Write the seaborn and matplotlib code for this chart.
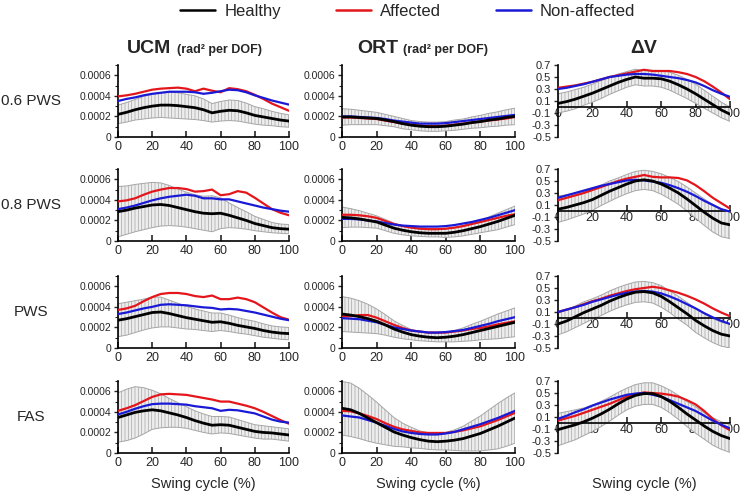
import matplotlib
matplotlib.use("Agg")
import numpy as np
import matplotlib.pyplot as plt
import seaborn as sns
from matplotlib.lines import Line2D
from matplotlib.ticker import MultipleLocator

sns.set_style("ticks")
plt.rcParams['font.family'] = ['Liberation Sans', 'DejaVu Sans']
plt.rcParams['hatch.linewidth'] = 0.5
plt.rcParams['hatch.color'] = '#a6a6a6'

# swing cycle (%) sampled every 5 %
swing = list(range(0, 101, 5))

# UCM / ORT values are in units of 1e-4 rad^2 per DOF
VAR_UNIT = 1e-4

# ---------------- UCM ----------------
ucm_06_healthy = [2.2, 2.4, 2.65, 2.85, 3.0, 3.1, 3.1, 3.05, 2.95, 2.85, 2.65, 2.35, 2.5, 2.6, 2.55, 2.35, 2.1, 1.95, 1.8, 1.65, 1.55]
ucm_06_sd = [0.9, 0.95, 1.0, 1.1, 1.15, 1.2, 1.25, 1.25, 1.2, 1.15, 1.05, 0.9, 0.95, 1.0, 1.0, 0.95, 0.85, 0.8, 0.7, 0.65, 0.6]
ucm_06_affected = [3.95, 4.05, 4.2, 4.4, 4.6, 4.7, 4.75, 4.8, 4.7, 4.45, 4.7, 4.5, 4.35, 4.75, 4.65, 4.45, 4.1, 3.7, 3.25, 2.9, 2.55]
ucm_06_nonaff = [3.5, 3.7, 3.85, 4.05, 4.2, 4.3, 4.4, 4.4, 4.4, 4.35, 4.2, 4.3, 4.45, 4.6, 4.55, 4.35, 4.05, 3.8, 3.55, 3.35, 3.15]

ucm_08_healthy = [2.85, 3.0, 3.2, 3.35, 3.5, 3.55, 3.45, 3.25, 3.05, 2.85, 2.7, 2.65, 2.7, 2.5, 2.25, 2.0, 1.7, 1.5, 1.3, 1.2, 1.15]
ucm_08_sd = [2.45, 2.35, 2.3, 2.25, 2.2, 2.1, 1.95, 1.8, 1.7, 1.65, 1.65, 1.75, 1.5, 1.2, 1.0, 0.85, 0.7, 0.6, 0.5, 0.45, 0.45]
ucm_08_affected = [3.85, 3.95, 4.15, 4.5, 4.8, 5.0, 5.15, 5.15, 5.05, 4.8, 4.85, 5.0, 4.45, 4.55, 4.85, 4.7, 4.2, 3.65, 3.1, 2.75, 2.5]
ucm_08_nonaff = [3.1, 3.25, 3.45, 3.7, 3.95, 4.15, 4.3, 4.4, 4.5, 4.4, 4.15, 4.15, 4.05, 4.05, 3.85, 3.65, 3.45, 3.25, 3.1, 2.95, 2.85]

ucm_pws_healthy = [2.7, 2.85, 3.05, 3.25, 3.45, 3.5, 3.35, 3.15, 2.95, 2.8, 2.65, 2.5, 2.55, 2.4, 2.2, 2.05, 1.9, 1.7, 1.55, 1.45, 1.4]
ucm_pws_sd = [1.6, 1.6, 1.55, 1.5, 1.5, 1.45, 1.3, 1.2, 1.1, 1.0, 0.95, 0.9, 0.85, 0.8, 0.75, 0.7, 0.7, 0.65, 0.6, 0.6, 0.6]
ucm_pws_affected = [3.7, 3.85, 4.1, 4.55, 4.95, 5.25, 5.35, 5.35, 5.25, 5.05, 4.95, 5.1, 4.75, 4.75, 4.9, 4.75, 4.45, 3.95, 3.45, 3.0, 2.75]
ucm_pws_nonaff = [3.3, 3.45, 3.65, 3.85, 4.0, 4.2, 4.25, 4.2, 4.15, 4.05, 3.95, 3.9, 3.75, 3.8, 3.75, 3.6, 3.45, 3.25, 3.05, 2.85, 2.7]

ucm_fas_healthy = [3.45, 3.7, 3.95, 4.1, 4.2, 4.1, 3.9, 3.7, 3.45, 3.15, 2.9, 2.7, 2.75, 2.7, 2.5, 2.3, 2.1, 2.0, 1.95, 1.85, 1.75]
ucm_fas_sd = [2.4, 2.5, 2.5, 2.25, 1.9, 1.65, 1.4, 1.2, 1.05, 0.95, 0.9, 0.85, 0.8, 0.8, 0.75, 0.7, 0.65, 0.65, 0.6, 0.6, 0.6]
ucm_fas_affected = [4.1, 4.35, 4.65, 5.05, 5.45, 5.7, 5.75, 5.7, 5.65, 5.5, 5.35, 5.2, 5.0, 5.0, 4.8, 4.6, 4.35, 4.0, 3.6, 3.2, 2.85]
ucm_fas_nonaff = [3.75, 4.0, 4.3, 4.55, 4.75, 4.8, 4.8, 4.75, 4.7, 4.55, 4.45, 4.35, 4.1, 4.2, 4.15, 4.0, 3.85, 3.55, 3.25, 3.05, 2.95]

# ---------------- ORT ----------------
ort_06_healthy = [1.95, 1.95, 1.9, 1.85, 1.8, 1.65, 1.5, 1.3, 1.15, 1.05, 1.0, 1.0, 1.05, 1.15, 1.25, 1.4, 1.5, 1.65, 1.75, 1.9, 2.0]
ort_06_sd = [0.8, 0.75, 0.7, 0.65, 0.6, 0.55, 0.5, 0.5, 0.45, 0.45, 0.45, 0.45, 0.45, 0.5, 0.5, 0.55, 0.6, 0.65, 0.7, 0.75, 0.8]
ort_06_affected = [1.9, 1.9, 1.85, 1.8, 1.75, 1.6, 1.45, 1.3, 1.2, 1.1, 1.05, 1.05, 1.1, 1.2, 1.3, 1.4, 1.5, 1.6, 1.7, 1.8, 1.95]
ort_06_nonaff = [2.0, 2.0, 1.95, 1.9, 1.85, 1.75, 1.6, 1.5, 1.4, 1.3, 1.3, 1.3, 1.35, 1.45, 1.55, 1.65, 1.75, 1.85, 1.95, 2.05, 2.15]

ort_08_healthy = [2.3, 2.25, 2.15, 2.0, 1.85, 1.55, 1.25, 1.05, 0.9, 0.8, 0.75, 0.75, 0.75, 0.85, 1.0, 1.2, 1.4, 1.65, 1.9, 2.2, 2.5]
ort_08_sd = [1.0, 0.9, 0.8, 0.7, 0.6, 0.55, 0.5, 0.45, 0.4, 0.35, 0.35, 0.35, 0.4, 0.45, 0.5, 0.55, 0.6, 0.7, 0.8, 0.85, 0.9]
ort_08_affected = [2.55, 2.55, 2.5, 2.4, 2.25, 1.95, 1.65, 1.45, 1.3, 1.2, 1.15, 1.15, 1.2, 1.3, 1.45, 1.65, 1.85, 2.05, 2.25, 2.45, 2.6]
ort_08_nonaff = [2.15, 2.15, 2.1, 2.0, 1.9, 1.75, 1.6, 1.5, 1.45, 1.4, 1.4, 1.4, 1.45, 1.55, 1.7, 1.85, 2.05, 2.25, 2.5, 2.75, 3.0]

ort_pws_healthy = [3.3, 3.2, 3.05, 2.85, 2.6, 2.25, 1.85, 1.55, 1.3, 1.15, 1.05, 1.0, 1.05, 1.15, 1.3, 1.5, 1.7, 1.9, 2.1, 2.3, 2.5]
ort_pws_sd = [1.7, 1.65, 1.55, 1.4, 1.2, 1.0, 0.8, 0.65, 0.5, 0.45, 0.4, 0.4, 0.45, 0.55, 0.65, 0.8, 0.9, 1.05, 1.2, 1.3, 1.4]
ort_pws_affected = [3.05, 3.1, 3.2, 3.2, 2.95, 2.6, 2.25, 1.95, 1.7, 1.6, 1.5, 1.5, 1.5, 1.6, 1.7, 1.85, 1.95, 2.1, 2.3, 2.45, 2.6]
ort_pws_nonaff = [2.9, 2.85, 2.8, 2.65, 2.5, 2.25, 2.0, 1.85, 1.7, 1.6, 1.5, 1.5, 1.55, 1.65, 1.75, 1.95, 2.15, 2.35, 2.6, 2.8, 3.0]

ort_fas_healthy = [4.35, 4.2, 3.85, 3.4, 2.95, 2.5, 2.05, 1.75, 1.5, 1.3, 1.15, 1.1, 1.15, 1.25, 1.4, 1.65, 1.9, 2.25, 2.6, 3.0, 3.4]
ort_fas_sd = [2.6, 2.6, 2.45, 2.25, 2.0, 1.7, 1.4, 1.15, 1.0, 0.85, 0.8, 0.8, 0.85, 1.0, 1.2, 1.45, 1.7, 1.95, 2.2, 2.35, 2.45]
ort_fas_affected = [4.1, 4.05, 3.85, 3.6, 3.3, 2.9, 2.55, 2.3, 2.15, 2.0, 1.95, 1.95, 1.95, 2.05, 2.2, 2.4, 2.6, 2.9, 3.2, 3.55, 3.9]
ort_fas_nonaff = [3.65, 3.55, 3.45, 3.2, 2.95, 2.65, 2.35, 2.1, 1.95, 1.85, 1.8, 1.8, 1.9, 2.05, 2.3, 2.55, 2.8, 3.1, 3.4, 3.75, 4.1]

# ---------------- Delta V ----------------
dv_06_healthy = [0.06, 0.09, 0.13, 0.18, 0.23, 0.29, 0.35, 0.41, 0.46, 0.5, 0.48, 0.48, 0.47, 0.43, 0.37, 0.3, 0.22, 0.13, 0.04, -0.05, -0.12]
dv_06_sd = [0.16, 0.16, 0.16, 0.15, 0.15, 0.15, 0.14, 0.14, 0.13, 0.13, 0.13, 0.13, 0.14, 0.15, 0.16, 0.16, 0.16, 0.15, 0.14, 0.13, 0.12]
dv_06_affected = [0.32, 0.34, 0.36, 0.39, 0.42, 0.46, 0.5, 0.53, 0.56, 0.59, 0.62, 0.6, 0.6, 0.6, 0.58, 0.55, 0.5, 0.43, 0.34, 0.24, 0.13]
dv_06_nonaff = [0.3, 0.32, 0.35, 0.38, 0.42, 0.46, 0.5, 0.52, 0.54, 0.55, 0.55, 0.54, 0.52, 0.5, 0.48, 0.45, 0.41, 0.35, 0.28, 0.22, 0.17]

dv_08_healthy = [0.03, 0.06, 0.1, 0.14, 0.19, 0.26, 0.33, 0.39, 0.45, 0.5, 0.52, 0.5, 0.45, 0.38, 0.3, 0.2, 0.09, -0.02, -0.12, -0.2, -0.23]
dv_08_sd = [0.22, 0.21, 0.2, 0.19, 0.18, 0.17, 0.17, 0.16, 0.16, 0.16, 0.16, 0.16, 0.17, 0.18, 0.19, 0.2, 0.21, 0.22, 0.23, 0.23, 0.23]
dv_08_affected = [0.18, 0.22, 0.26, 0.3, 0.35, 0.4, 0.45, 0.5, 0.54, 0.57, 0.6, 0.57, 0.56, 0.56, 0.55, 0.51, 0.43, 0.33, 0.22, 0.13, 0.04]
dv_08_nonaff = [0.22, 0.26, 0.3, 0.34, 0.38, 0.42, 0.45, 0.48, 0.51, 0.52, 0.51, 0.49, 0.47, 0.43, 0.38, 0.32, 0.25, 0.17, 0.1, 0.03, -0.01]

dv_pws_healthy = [-0.1, -0.05, 0.02, 0.09, 0.15, 0.21, 0.28, 0.34, 0.39, 0.43, 0.44, 0.42, 0.36, 0.27, 0.17, 0.07, -0.04, -0.13, -0.21, -0.27, -0.3]
dv_pws_sd = [0.18, 0.18, 0.18, 0.18, 0.17, 0.17, 0.17, 0.17, 0.17, 0.17, 0.17, 0.17, 0.18, 0.18, 0.19, 0.19, 0.2, 0.2, 0.2, 0.2, 0.2]
dv_pws_affected = [0.1, 0.14, 0.18, 0.23, 0.28, 0.32, 0.37, 0.41, 0.45, 0.48, 0.5, 0.52, 0.5, 0.46, 0.42, 0.37, 0.31, 0.24, 0.16, 0.09, 0.03]
dv_pws_nonaff = [0.1, 0.14, 0.18, 0.22, 0.27, 0.31, 0.35, 0.39, 0.42, 0.44, 0.45, 0.44, 0.41, 0.36, 0.3, 0.23, 0.16, 0.08, 0.01, -0.05, -0.1]

dv_fas_healthy = [-0.11, -0.07, -0.03, 0.02, 0.08, 0.15, 0.23, 0.32, 0.4, 0.46, 0.49, 0.49, 0.44, 0.36, 0.26, 0.15, 0.05, -0.05, -0.14, -0.21, -0.26]
dv_fas_sd = [0.27, 0.26, 0.25, 0.23, 0.22, 0.21, 0.2, 0.19, 0.18, 0.18, 0.18, 0.18, 0.18, 0.19, 0.2, 0.21, 0.22, 0.22, 0.23, 0.23, 0.23]
dv_fas_affected = [0.04, 0.08, 0.12, 0.17, 0.22, 0.27, 0.32, 0.38, 0.44, 0.48, 0.51, 0.5, 0.49, 0.47, 0.44, 0.38, 0.31, 0.2, 0.07, -0.04, -0.12]
dv_fas_nonaff = [0.07, 0.12, 0.18, 0.23, 0.29, 0.34, 0.39, 0.43, 0.47, 0.49, 0.5, 0.47, 0.44, 0.38, 0.32, 0.26, 0.2, 0.12, 0.04, -0.03, -0.09]

row_labels = ["0.6 PWS", "0.8 PWS", "PWS", "FAS"]
group_labels = ["Healthy", "Affected", "Non-affected"]
group_colors = ["black", "#e3161c", "#1a1ad6"]

ucm_rows = [
    (ucm_06_healthy, ucm_06_sd, ucm_06_affected, ucm_06_nonaff),
    (ucm_08_healthy, ucm_08_sd, ucm_08_affected, ucm_08_nonaff),
    (ucm_pws_healthy, ucm_pws_sd, ucm_pws_affected, ucm_pws_nonaff),
    (ucm_fas_healthy, ucm_fas_sd, ucm_fas_affected, ucm_fas_nonaff),
]
ort_rows = [
    (ort_06_healthy, ort_06_sd, ort_06_affected, ort_06_nonaff),
    (ort_08_healthy, ort_08_sd, ort_08_affected, ort_08_nonaff),
    (ort_pws_healthy, ort_pws_sd, ort_pws_affected, ort_pws_nonaff),
    (ort_fas_healthy, ort_fas_sd, ort_fas_affected, ort_fas_nonaff),
]
dv_rows = [
    (dv_06_healthy, dv_06_sd, dv_06_affected, dv_06_nonaff),
    (dv_08_healthy, dv_08_sd, dv_08_affected, dv_08_nonaff),
    (dv_pws_healthy, dv_pws_sd, dv_pws_affected, dv_pws_nonaff),
    (dv_fas_healthy, dv_fas_sd, dv_fas_affected, dv_fas_nonaff),
]

W, H = 740, 498
fig = plt.figure(figsize=(W / 100, H / 100), dpi=100)

col_x = [(118, 171), (342, 173), (558, 172)]   # left px, width px
row_bottom = [137, 241, 348, 453]              # px from top
ax_h = 72


def draw_panel(ax, data, scale):
    healthy, sd, affected, nonaff = [np.array(v) * scale for v in data]
    ax.fill_between(swing, healthy - sd, healthy + sd, facecolor='#ededed',
                    edgecolor='#a6a6a6', hatch='|||||', linewidth=0.7, zorder=1)
    sns.lineplot(x=swing, y=healthy, color=group_colors[0], linewidth=2.0, ax=ax, zorder=4)
    sns.lineplot(x=swing, y=affected, color=group_colors[1], linewidth=1.6, ax=ax, zorder=3)
    sns.lineplot(x=swing, y=nonaff, color=group_colors[2], linewidth=1.6, ax=ax, zorder=3)
    ax.set_xlim(0, 100)
    ax.set_xticks([0, 20, 40, 60, 80, 100])
    ax.set_xlabel("")
    ax.set_ylabel("")
    for s in ['top', 'right']:
        ax.spines[s].set_visible(False)
    for s in ['left', 'bottom']:
        ax.spines[s].set_color('black')
        ax.spines[s].set_linewidth(1.2)
    ax.tick_params(axis='x', direction='in', length=4, width=1.2, labelsize=9, pad=3)
    ax.tick_params(axis='y', direction='out', length=3, width=1.0, labelsize=7.5, pad=2)
    ax.set_facecolor('none')


for r in range(4):
    bottom = 1 - row_bottom[r] / H
    for c, rows in enumerate([ucm_rows, ort_rows, dv_rows]):
        left = col_x[c][0] / W
        width = col_x[c][1] / W
        ax = fig.add_axes([left, bottom, width, ax_h / H])
        if c < 2:
            draw_panel(ax, rows[r], VAR_UNIT)
            ax.set_ylim(0, 0.0007)
            ax.set_yticks([0, 0.0002, 0.0004, 0.0006])
            ax.set_yticklabels(["0", "0.0002", "0.0004", "0.0006"])
            ax.yaxis.set_minor_locator(MultipleLocator(0.0001))
            ax.tick_params(axis='y', which='minor', direction='out', length=2, width=0.8)
        else:
            draw_panel(ax, rows[r], 1.0)
            ax.set_ylim(-0.5, 0.7)
            ax.set_yticks([0.7, 0.5, 0.3, 0.1, -0.1, -0.3, -0.5])
            ax.set_yticklabels(["0.7", "0.5", "0.3", "0.1", "-0.1", "-0.3", "-0.5"])
            ax.tick_params(axis='y', labelsize=8)
            ax.spines['bottom'].set_position(('data', 0))
            ax.tick_params(axis='x', pad=1)
        if r == 3:
            ax.text(0.5, -0.33, "Swing cycle (%)", transform=ax.transAxes,
                    ha='center', va='top', fontsize=10.5)
    fig.text(31 / W, 1 - (row_bottom[r] - 36) / H, row_labels[r],
             ha='center', va='center', fontsize=11)

# column titles
title_y = 1 - 53 / H
fig.text(127 / W, title_y, "UCM", fontsize=14, fontweight='bold', va='baseline')
fig.text(177 / W, title_y, "(rad² per DOF)", fontsize=9, fontweight='bold', va='baseline')
fig.text(357 / W, title_y, "ORT", fontsize=14, fontweight='bold', va='baseline')
fig.text(403 / W, title_y, "(rad² per DOF)", fontsize=9, fontweight='bold', va='baseline')
fig.text(644 / W, title_y, "ΔV", fontsize=14, fontweight='bold', va='baseline', ha='center')

handles = [Line2D([0], [0], color=col, linewidth=1.8) for col in group_colors]
fig.legend(handles, group_labels, loc='upper center', bbox_to_anchor=(0.551, 0.992),
           ncol=3, frameon=False, fontsize=12, handlelength=2.1, handletextpad=0.55,
           columnspacing=3.3, borderpad=0, borderaxespad=0)

fig.savefig("out.png", dpi=100)
